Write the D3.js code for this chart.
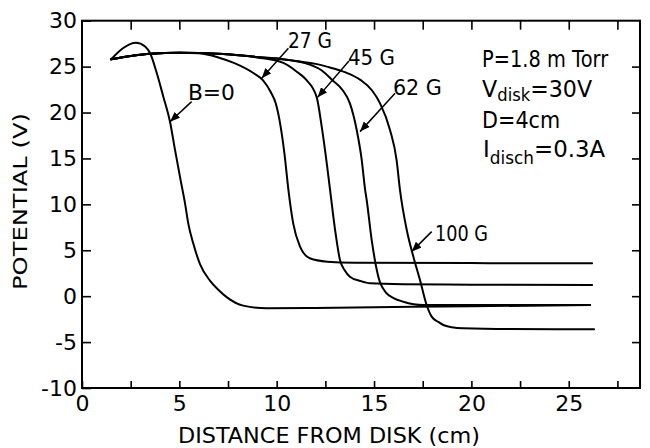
<!DOCTYPE html>
<html>
<head>
<meta charset="utf-8">
<script src="https://cdn.jsdelivr.net/npm/d3@7"></script>
<style>
  html, body { margin: 0; padding: 0; background: #fff; }
  svg { display: block; }
  text { font-family: "DejaVu Sans", "Liberation Sans", sans-serif; fill: #000; }
</style>
</head>
<body>
<svg id="chart" width="650" height="448"></svg>
<script>
// ---- data (distance in cm, potential in V) ----
const seriesNames = ["B=0", "27G", "45G", "62G", "100G"];

const distB0 = [1.5, 2.1, 2.77, 3.24, 3.5, 3.84, 4.18, 4.52, 4.78, 5.05, 5.3, 5.46, 5.72, 6.06, 6.57, 7.0, 7.43, 8.28, 9.5, 12, 15, 20, 26.1];
const potB0  = [25.8, 27.0, 27.6, 27.2, 26.45, 24.3, 21.7, 19.0, 15.9, 12.8, 10.0, 7.9, 5.7, 3.5, 1.7, 0.7, -0.1, -1.03, -1.32, -1.28, -1.2, -1.1, -0.96];

const dist27 = [1.5, 2.5, 3.5, 5, 6, 7, 7.8, 8.8, 9.3, 9.7, 9.95, 10.2, 10.4, 10.6, 10.85, 11.2, 11.7, 12.6, 14, 20, 26.2];
const pot27  = [25.8, 26.15, 26.4, 26.5, 26.45, 26.0, 25.4, 24.3, 23.5, 22.2, 21.0, 18.5, 15.5, 11.6, 7.9, 5.4, 4.13, 3.76, 3.65, 3.6, 3.58];

const dist45 = [1.5, 2.5, 3.5, 5, 7, 9, 10.34, 11.0, 11.5, 12.05, 12.31, 12.57, 12.74, 13.0, 13.25, 13.5, 13.76, 14.3, 14.8, 16.5, 20, 26.2];
const pot45  = [25.8, 26.15, 26.4, 26.5, 26.4, 26.0, 25.4, 24.5, 23.6, 21.7, 18.5, 14.5, 11.6, 7.2, 3.94, 2.8, 2.12, 1.65, 1.4, 1.3, 1.25, 1.22];

const dist62 = [1.5, 2.5, 3.5, 5, 7, 9, 10, 11.5, 12.3, 12.85, 13.4, 13.76, 14.11, 14.37, 14.54, 14.62, 14.88, 15.22, 15.65, 16.0, 16.5, 17.53, 20, 26.1];
const pot62  = [25.8, 26.15, 26.4, 26.5, 26.4, 26.05, 25.85, 25.35, 24.6, 23.55, 22.4, 21.0, 18.1, 14.8, 11.6, 10.5, 6.1, 2.12, 0.3, -0.2, -0.6, -0.96, -0.96, -0.96];

const dist100 = [1.5, 2.5, 3.5, 5, 7, 9, 10, 11, 12, 12.57, 13.5, 14.3, 14.9, 15.31, 15.82, 16.16, 16.33, 16.68, 17.02, 17.36, 17.7, 17.96, 18.3, 18.56, 19.0, 19.58, 22, 26.3];
const pot100  = [25.8, 26.15, 26.4, 26.5, 26.4, 26.05, 25.9, 25.6, 25.3, 25.0, 24.4, 23.55, 22.4, 21.0, 18.1, 14.8, 11.6, 7.2, 4.3, 1.76, -0.96, -2.23, -2.8, -3.14, -3.38, -3.5, -3.58, -3.6];

const xMajorTicks = [0, 5, 10, 15, 20, 25];
const xMinorTicks = [2.5, 7.5, 12.5, 17.5, 22.5, 27.5];
const yTickValues = [-10, -5, 0, 5, 10, 15, 20, 25, 30];

// label text, label anchor (data units), arrow start and tip (data units)
const labelText  = ["B=0", "27 G", "45 G", "62 G", "100 G"];
const labelAt    = [[5.44, 21.4], [10.58, 27.04], [13.66, 25.2], [15.97, 21.9], [18.13, 6.0]];
const arrowFrom  = [[5.63, 21.19], [10.6, 27.0], [13.71, 25.62], [16.08, 22.1], [17.96, 7.03]];
const arrowTo    = [[4.52, 19.0], [9.23, 23.74], [12.1, 21.65], [14.28, 17.92], [16.93, 4.85]];

// ---- chart ----
const svg = d3.select("#chart");
const W = 650, H = 448;
const m = { left: 82, right: 10, top: 20.7, bottom: 60 };

const x = d3.scaleLinear().domain([0, 28.66]).range([m.left, W - m.right]);
const y = d3.scaleLinear().domain([-10, 30]).range([H - m.bottom, m.top]);

const fmt = d => String(d);
const tickFont = 22;

// frame
svg.append("rect")
  .attr("x", x(0)).attr("y", y(30))
  .attr("width", x(28.66) - x(0)).attr("height", y(-10) - y(30))
  .attr("fill", "none").attr("stroke", "#000").attr("stroke-width", 2);

function styleAxis(g) {
  g.select(".domain").remove();
  g.selectAll(".tick line").attr("stroke", "#000").attr("stroke-width", 1.6);
  g.selectAll(".tick text").attr("font-size", tickFont).attr("fill", "#000")
    .attr("font-family", '"DejaVu Sans", sans-serif');
}

// left axis (labels + inward ticks)
svg.append("g").attr("transform", `translate(${x(0)},0)`)
  .call(d3.axisLeft(y).tickValues(yTickValues).tickSize(-9).tickPadding(5).tickFormat(fmt))
  .call(styleAxis);

// right axis (inward ticks only)
svg.append("g").attr("transform", `translate(${x(28.66)},0)`)
  .call(d3.axisRight(y).tickValues(yTickValues.slice(1, -1)).tickSize(-8).tickFormat(""))
  .call(styleAxis);

// bottom axis
svg.append("g").attr("transform", `translate(0,${y(-10)})`)
  .call(d3.axisBottom(x).tickValues(xMajorTicks).tickSize(-7).tickPadding(7).tickFormat(fmt))
  .call(styleAxis);
svg.append("g").attr("transform", `translate(0,${y(-10)})`)
  .call(d3.axisBottom(x).tickValues(xMinorTicks).tickSize(-7).tickFormat(""))
  .call(styleAxis);

// top axis
svg.append("g").attr("transform", `translate(0,${y(30)})`)
  .call(d3.axisTop(x).tickValues(xMajorTicks.slice(1).concat(xMinorTicks)).tickSize(-9).tickFormat(""))
  .call(styleAxis);

// axis titles
svg.append("text")
  .attr("x", 329).attr("y", 443)
  .attr("text-anchor", "middle").attr("font-size", 22)
  .attr("textLength", 302).attr("lengthAdjust", "spacingAndGlyphs")
  .text("DISTANCE FROM DISK (cm)");

svg.append("text")
  .attr("transform", "translate(27,201.5) rotate(-90)")
  .attr("text-anchor", "middle").attr("font-size", 20)
  .attr("textLength", 177).attr("lengthAdjust", "spacingAndGlyphs")
  .text("POTENTIAL (V)");

// curves
const series = [
  [distB0, potB0], [dist27, pot27], [dist45, pot45], [dist62, pot62], [dist100, pot100]
];
const line = d3.line().x(d => x(d[0])).y(d => y(d[1])).curve(d3.curveMonotoneX);

svg.append("g").selectAll("path")
  .data(series.map(([dx, py]) => dx.map((v, i) => [v, py[i]])))
  .join("path")
  .attr("d", line)
  .attr("fill", "none").attr("stroke", "#000").attr("stroke-width", 2)
  .attr("stroke-linejoin", "round").attr("stroke-linecap", "round");

// arrowhead marker
svg.append("defs").append("marker")
  .attr("id", "ah").attr("markerUnits", "userSpaceOnUse")
  .attr("viewBox", "0 0 10 8").attr("refX", 10).attr("refY", 4)
  .attr("markerWidth", 10).attr("markerHeight", 8).attr("orient", "auto")
  .append("path").attr("d", "M0,0 L10,4 L0,8 Z").attr("fill", "#000");

// arrows
svg.append("g").selectAll("line")
  .data(seriesNames.map((n, i) => ({ from: arrowFrom[i], to: arrowTo[i] })))
  .join("line")
  .attr("x1", d => x(d.from[0])).attr("y1", d => y(d.from[1]))
  .attr("x2", d => x(d.to[0])).attr("y2", d => y(d.to[1]))
  .attr("stroke", "#000").attr("stroke-width", 1.5)
  .attr("marker-end", "url(#ah)");

// curve labels
const labelWidths = [47, 44, 47, 49, 53];
svg.append("g").selectAll("text")
  .data(labelText.map((t, i) => ({ t, at: labelAt[i], w: labelWidths[i] })))
  .join("text")
  .attr("x", d => x(d.at[0])).attr("y", d => y(d.at[1]))
  .attr("font-size", 22)
  .attr("textLength", d => d.w).attr("lengthAdjust", "spacingAndGlyphs")
  .text(d => d.t);

// parameter block
const paramAt = [20.55, 25.0];
const px0 = x(paramAt[0]), py0 = y(paramAt[1]);
const pg = svg.append("g").attr("transform", `translate(${px0},${py0})`);

pg.append("text").attr("x", 0).attr("y", 0).attr("font-size", 23)
  .attr("textLength", 126).attr("lengthAdjust", "spacingAndGlyphs")
  .text("P=1.8 m Torr");

const t2 = pg.append("text").attr("x", 0).attr("y", 30).attr("font-size", 23);
t2.append("tspan").text("V");
t2.append("tspan").attr("font-size", 17).attr("dy", 4).text("disk");
t2.append("tspan").attr("dy", -4).text("=30V");
t2.attr("textLength", 110).attr("lengthAdjust", "spacingAndGlyphs");

pg.append("text").attr("x", 0).attr("y", 61).attr("font-size", 23)
  .attr("textLength", 78).attr("lengthAdjust", "spacingAndGlyphs")
  .text("D=4cm");

const t4 = pg.append("text").attr("x", 1).attr("y", 90).attr("font-size", 23);
t4.append("tspan").text("I");
t4.append("tspan").attr("font-size", 17).attr("dy", 7).text("disch");
t4.append("tspan").attr("dy", -7).text("=0.3A");
t4.attr("textLength", 122).attr("lengthAdjust", "spacingAndGlyphs");
</script>
</body>
</html>
